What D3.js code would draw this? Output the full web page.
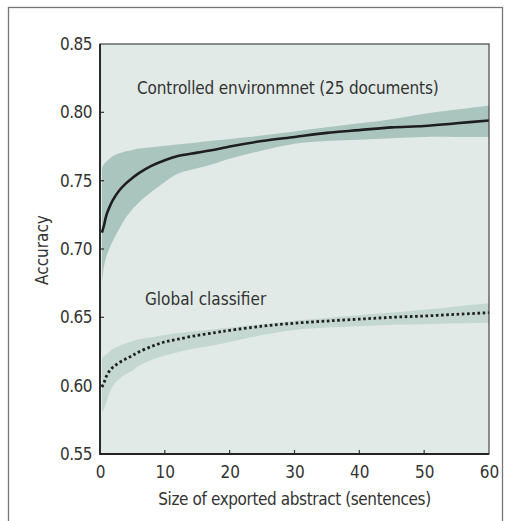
<!DOCTYPE html>
<html>
<head>
<meta charset="utf-8">
<script src="https://cdn.jsdelivr.net/npm/d3@7"></script>
<style>
  body { margin: 0; background: #fff; }
  text { font-family: "Liberation Sans Narrow", "DejaVu Sans Condensed", "Roboto", sans-serif; fill: #333; }
</style>
</head>
<body>
<div id="wrapper"></div>
<script>
// sentences in exported abstract
const xValues = [0.3, 0.6, 1, 1.5, 2, 3, 4, 5, 6, 8, 10, 12, 15, 18, 20, 25, 30, 35, 40, 45, 50, 55, 60]

// controlled environment (25 documents)
const controlledMean  = [0.712, 0.717, 0.725, 0.731, 0.736, 0.743, 0.748, 0.752, 0.7555, 0.761, 0.765, 0.768, 0.7705, 0.773, 0.775, 0.779, 0.782, 0.785, 0.787, 0.789, 0.790, 0.792, 0.794]
const controlledUpper = [0.759, 0.762, 0.764, 0.766, 0.768, 0.770, 0.7715, 0.7725, 0.7735, 0.7745, 0.7755, 0.7765, 0.778, 0.7795, 0.7805, 0.783, 0.786, 0.789, 0.792, 0.795, 0.799, 0.802, 0.805]
const controlledLower = [0.675, 0.687, 0.695, 0.701, 0.706, 0.715, 0.723, 0.729, 0.734, 0.742, 0.749, 0.755, 0.759, 0.763, 0.766, 0.772, 0.777, 0.779, 0.780, 0.781, 0.782, 0.782, 0.782]

// global classifier
const globalMean  = [0.599, 0.602, 0.607, 0.611, 0.6135, 0.617, 0.6197, 0.622, 0.6247, 0.6288, 0.632, 0.634, 0.6368, 0.639, 0.6405, 0.6435, 0.6457, 0.6473, 0.6487, 0.650, 0.651, 0.6522, 0.6534]
const globalUpper = [0.620, 0.6215, 0.623, 0.625, 0.627, 0.629, 0.631, 0.6325, 0.634, 0.6355, 0.637, 0.6385, 0.640, 0.6415, 0.6425, 0.645, 0.6475, 0.6495, 0.6515, 0.6535, 0.6555, 0.658, 0.6603]
const globalLower = [0.581, 0.583, 0.588, 0.5955, 0.600, 0.605, 0.6085, 0.611, 0.6145, 0.619, 0.622, 0.6245, 0.6275, 0.630, 0.632, 0.637, 0.6408, 0.6425, 0.6435, 0.6445, 0.645, 0.6456, 0.6461]

const xTicks = [0, 10, 20, 30, 40, 50, 60]
const yTicks = [0.55, 0.60, 0.65, 0.70, 0.75, 0.80, 0.85]

const labels = {
  controlled: "Controlled environmnet (25 documents)",
  global: "Global classifier",
  x: "Size of exported abstract (sentences)",
  y: "Accuracy",
}

const dimensions = {
  width: 507,
  height: 521,
  margin: { top: 44, right: 18, bottom: 67, left: 100 },
}
dimensions.boundedWidth = dimensions.width - dimensions.margin.left - dimensions.margin.right
dimensions.boundedHeight = dimensions.height - dimensions.margin.top - dimensions.margin.bottom

const svg = d3.select("#wrapper")
  .append("svg")
  .attr("width", dimensions.width)
  .attr("height", dimensions.height)

// outer frame (runs off the bottom of the picture)
svg.append("rect")
  .attr("x", 8.5).attr("y", 7.5)
  .attr("width", 494).attr("height", 540)
  .attr("fill", "none")
  .attr("stroke", "#777")
  .attr("stroke-width", 1.3)

const bounds = svg.append("g")
  .attr("transform", `translate(${dimensions.margin.left},${dimensions.margin.top})`)

const xScale = d3.scaleLinear().domain([0, 60]).range([0, dimensions.boundedWidth])
const yScale = d3.scaleLinear().domain([0.55, 0.85]).range([dimensions.boundedHeight, 0])

bounds.append("rect")
  .attr("width", dimensions.boundedWidth)
  .attr("height", dimensions.boundedHeight)
  .attr("fill", "#e1eae6")

const curve = d3.curveCatmullRom.alpha(0.5)

const band = (upper, lower) => d3.area()
  .x(d => xScale(d))
  .y0((d, i) => yScale(lower[i]))
  .y1((d, i) => yScale(upper[i]))
  .curve(curve)

const line = values => d3.line()
  .x(d => xScale(d))
  .y((d, i) => yScale(values[i]))
  .curve(curve)

bounds.append("path")
  .attr("d", band(controlledUpper, controlledLower)(xValues))
  .attr("fill", "#aac5be")

bounds.append("path")
  .attr("d", band(globalUpper, globalLower)(xValues))
  .attr("fill", "#c4d7d1")

bounds.append("path")
  .attr("d", line(controlledMean)(xValues))
  .attr("fill", "none")
  .attr("stroke", "#1e1e1e")
  .attr("stroke-width", 2.6)

bounds.append("path")
  .attr("d", line(globalMean)(xValues))
  .attr("fill", "none")
  .attr("stroke", "#1e1e1e")
  .attr("stroke-width", 2.8)
  .attr("stroke-dasharray", "2.6 2.6")

// axes with inward ticks
const xAxis = bounds.append("g")
  .attr("transform", `translate(0,${dimensions.boundedHeight})`)
  .call(d3.axisBottom(xScale).tickValues(xTicks).tickSize(0).tickPadding(12))
xAxis.select(".domain").remove()
xAxis.selectAll("text").attr("font-size", 17).attr("fill", "#333")

const yAxis = bounds.append("g")
  .call(d3.axisLeft(yScale).tickValues(yTicks).tickFormat(d3.format(".2f")).tickSize(0).tickPadding(8))
yAxis.select(".domain").remove()
yAxis.selectAll("text").attr("font-size", 17).attr("fill", "#333").attr("letter-spacing", -0.5)

bounds.selectAll(".xtick")
  .data(xTicks.slice(1, -1))
  .join("line")
  .attr("x1", d => xScale(d)).attr("x2", d => xScale(d))
  .attr("y1", dimensions.boundedHeight).attr("y2", dimensions.boundedHeight - 4)
  .attr("stroke", "#333").attr("stroke-width", 1.2)

bounds.selectAll(".ytick")
  .data(yTicks.slice(1, -1))
  .join("line")
  .attr("x1", 0).attr("x2", 4)
  .attr("y1", d => yScale(d)).attr("y2", d => yScale(d))
  .attr("stroke", "#333").attr("stroke-width", 1.2)

bounds.append("rect")
  .attr("width", dimensions.boundedWidth)
  .attr("height", dimensions.boundedHeight)
  .attr("fill", "none")
  .attr("stroke", "#444")
  .attr("stroke-width", 1.2)

bounds.append("path")
  .attr("d", `M0,0V${dimensions.boundedHeight}H${dimensions.boundedWidth}`)
  .attr("fill", "none")
  .attr("stroke", "#222")
  .attr("stroke-width", 1.8)

// annotations
bounds.append("text")
  .attr("x", 37).attr("y", 50)
  .attr("font-size", 17)
  .attr("letter-spacing", -0.15)
  .text(labels.controlled)

bounds.append("text")
  .attr("x", 45).attr("y", 261)
  .attr("font-size", 17)
  .text(labels.global)

svg.append("text")
  .attr("x", dimensions.margin.left + dimensions.boundedWidth / 2)
  .attr("y", 505)
  .attr("text-anchor", "middle")
  .attr("font-size", 17)
  .attr("letter-spacing", -0.4)
  .text(labels.x)

svg.append("text")
  .attr("transform", "translate(48,250) rotate(-90)")
  .attr("text-anchor", "middle")
  .attr("font-size", 17)
  .text(labels.y)
</script>
</body>
</html>
